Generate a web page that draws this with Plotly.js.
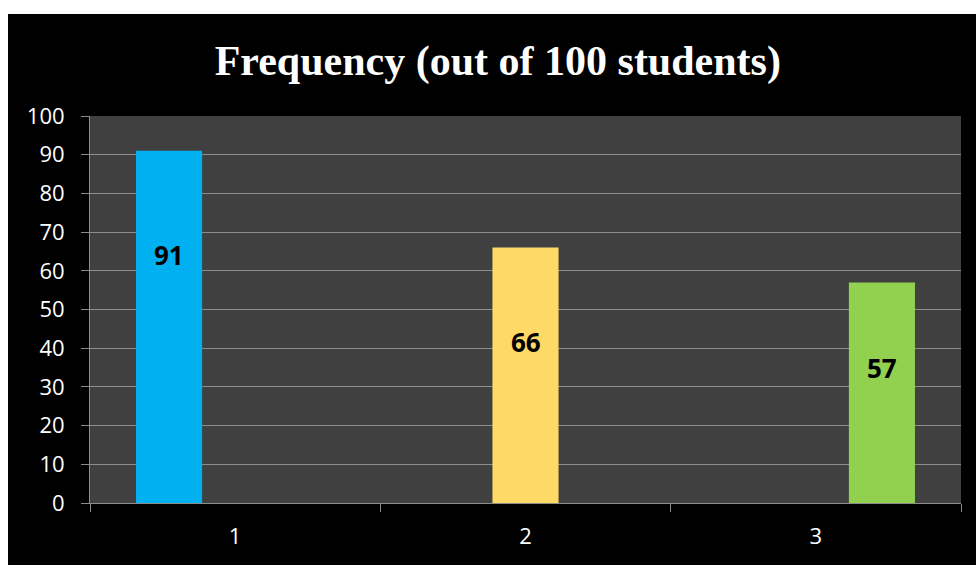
<!DOCTYPE html>
<html><head><meta charset="utf-8">
<script src="https://cdn.plot.ly/plotly-3.0.1.min.js"></script>
<style>html,body{margin:0;padding:0;background:#fff;}#chart{position:absolute;left:8px;top:14px;width:968px;height:551px;}</style>
</head><body><div id="chart"></div>
<script>
const categories = ["1", "2", "3"];
const values = [91, 66, 57];
const barColors = ["#00B0F0", "#FFD966", "#92D050"];
const labelY = [64, 41.5, 35];
const yTicks = [0,10,20,30,40,50,60,70,80,90,100];

const traces = categories.map((c, i) => ({
  type: 'bar',
  x: categories,
  y: categories.map((_, j) => j === i ? values[i] : null),
  marker: {color: barColors[i]},
  hoverinfo: 'skip',
  showlegend: false
}));

// each series' bar sits at its own slot inside the group (-1, 0, +1)
const slot = [-1, 0, 1];
const annotations = categories.map((c, i) => ({
  x: i, y: labelY[i], xref: 'x', yref: 'y',
  text: String(values[i]), showarrow: false,
  xshift: slot[i] * 66,
  font: {family: 'Open Sans, Liberation Sans, sans-serif', size: 26, color: '#000', weight: 700}
}));

const layout = {
  width: 968, height: 551,
  paper_bgcolor: '#000', plot_bgcolor: '#404040',
  margin: {l: 82, r: 15, t: 102, b: 62},
  barmode: 'group', bargap: 0.317, bargroupgap: 0,
  title: {text: '<b>Frequency (out of 100 students)</b>', x: 0.506, xanchor: 'center', y: 0.916, yanchor: 'middle',
    font: {family: 'Liberation Serif, Times New Roman, serif', size: 42, color: '#fff'}},
  xaxis: {type: 'category', range: [-0.5, 2.5], tickson: 'boundaries', ticks: 'outside', ticklen: 8, tickcolor: '#8c8c8c',
    showline: true, linecolor: '#8c8c8c', linewidth: 1, showgrid: false, ticklabelstandoff: 14,
    tickfont: {family: 'Open Sans, Liberation Sans, sans-serif', size: 22, color: '#fff'}},
  yaxis: {range: [0, 100], tickvals: yTicks, ticktext: yTicks.map(String), ticks: 'outside', ticklen: 8, tickcolor: '#8c8c8c',
    showline: true, linecolor: '#8c8c8c', linewidth: 1, gridcolor: '#8c8c8c', gridwidth: 1, zeroline: false,
    ticklabelstandoff: 12,
    tickfont: {family: 'Open Sans, Liberation Sans, sans-serif', size: 22, color: '#fff'}},
  annotations: annotations
};
Plotly.newPlot('chart', traces, layout, {staticPlot: true});
</script></body></html>
